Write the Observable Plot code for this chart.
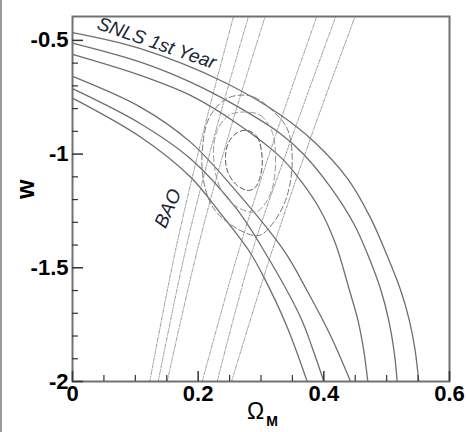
<!DOCTYPE html>
<html><head><meta charset="utf-8">
<script src="https://cdn.jsdelivr.net/npm/d3@7"></script>
<script src="https://cdn.jsdelivr.net/npm/@observablehq/plot@0.6"></script>
<style>
html,body{margin:0;padding:0;background:#fff;}
body{width:467px;height:432px;overflow:hidden;position:relative;}
#edge{position:absolute;left:0;top:0;width:2px;height:432px;background:#9a9a9a;}
</style></head><body><div id="chart"></div><div id="edge"></div>
<script>
// ---- tick values ----
const xMajor = [0, 0.2, 0.4, 0.6];
const xMinor = [0.05, 0.1, 0.15, 0.25, 0.3, 0.35, 0.45, 0.5, 0.55];
const yMajor = [-2, -1.5, -1, -0.5];
const yMinor = [-1.9, -1.8, -1.7, -1.6, -1.4, -1.3, -1.2, -1.1, -0.9, -0.8, -0.7, -0.6];

// ---- SNLS 1st year contours [Omega_M, w] ----
const snlsUpper1 = [[0,-0.466],[0.1082,-0.5365],[0.2408,-0.683],[0.3311,-0.8278],[0.3841,-0.9448],[0.4372,-1.1062],[0.4743,-1.2805],[0.5017,-1.4529],[0.5224,-1.600],[0.5362,-1.7319],[0.5454,-1.8639],[0.5510,-2.0]];
const snlsUpper2 = [[0,-0.5119],[0.1082,-0.5955],[0.1878,-0.6835],[0.2594,-0.786],[0.3311,-0.9105],[0.3681,-1.0015],[0.4106,-1.1454],[0.4477,-1.3064],[0.4724,-1.4591],[0.4910,-1.600],[0.5034,-1.7319],[0.5117,-1.8639],[0.5168,-2.0]];
const snlsUpper3 = [[0,-0.5616],[0.1082,-0.654],[0.1878,-0.742],[0.2594,-0.8608],[0.3311,-1.0134],[0.3629,-1.1159],[0.3947,-1.2479],[0.4186,-1.3944],[0.4409,-1.600],[0.4544,-1.7319],[0.4636,-1.8639],[0.4700,-2.0]];
const snlsLower1 = [[0,-0.6584],[0.1082,-0.7934],[0.1878,-0.9474],[0.2594,-1.1599],[0.3363,-1.4239],[0.3732,-1.5999],[0.4106,-1.7979],[0.4425,-2.0]];
const snlsLower2 = [[0,-0.7125],[0.1082,-0.8665],[0.1878,-1.0205],[0.2594,-1.2347],[0.3045,-1.4239],[0.3629,-1.7173],[0.3820,-1.855],[0.4000,-2.0]];
const snlsLower3 = [[0,-0.754],[0.1082,-0.925],[0.1878,-1.101],[0.2356,-1.261],[0.2806,-1.424],[0.3045,-1.541],[0.3417,-1.761],[0.3735,-2.0]];

// ---- combined (SNLS + BAO) contours ----
const combInner = [[0.2781,-0.896],[0.2940,-0.925],[0.3019,-1.020],[0.2992,-1.094],[0.2913,-1.145],[0.2806,-1.160],[0.2621,-1.138],[0.2472,-1.079],[0.2435,-1.006],[0.2488,-0.947],[0.2621,-0.906]];
const combMiddle = [[0.2726,-0.815],[0.2992,-0.830],[0.3178,-0.903],[0.3231,-1.035],[0.3178,-1.152],[0.3045,-1.226],[0.2913,-1.255],[0.2621,-1.233],[0.2356,-1.152],[0.2244,-1.006],[0.2303,-0.896],[0.2488,-0.830]];
const combOuter = [[0.2621,-0.742],[0.2886,-0.749],[0.3204,-0.815],[0.3417,-0.888],[0.3497,-1.020],[0.3417,-1.182],[0.3204,-1.299],[0.2965,-1.358],[0.2621,-1.328],[0.2249,-1.240],[0.2090,-1.123],[0.2064,-0.991],[0.2169,-0.844],[0.2408,-0.764]];

// ---- BAO band edges ----
const baoLeft1  = [[0.1230,-2.0],[0.1639,-1.424],[0.2069,-0.918],[0.2567,-0.39]];
const baoLeft2  = [[0.1364,-2.0],[0.1798,-1.424],[0.2260,-0.918],[0.2806,-0.39]];
const baoLeft3  = [[0.1507,-2.0],[0.1985,-1.424],[0.2483,-0.918],[0.3072,-0.39]];
const baoRight1 = [[0.2064,-2.0],[0.2647,-1.424],[0.3231,-0.918],[0.3895,-0.39]];
const baoRight2 = [[0.2303,-2.0],[0.2865,-1.424],[0.3502,-0.918],[0.4197,-0.39]];
const baoRight3 = [[0.2531,-2.0],[0.3178,-1.424],[0.3804,-0.918],[0.4504,-0.39]];

// ---- annotations ----
const labelText = ["SNLS 1st Year", "BAO"];
const labelX = [0.134, 0.152];
const labelW = [-0.512, -1.239];
const labelRotate = [19, -66];

function rows(named) {
  const out = [];
  for (const [id, pts] of Object.entries(named)) for (const [x, w] of pts) out.push({id, x, w});
  return out;
}
const snlsRows = rows({snlsUpper1, snlsUpper2, snlsUpper3, snlsLower1, snlsLower2, snlsLower3});
const baoRows = rows({baoLeft1, baoLeft2, baoLeft3, baoRight1, baoRight2, baoRight3});
const labels = labelText.map((t, i) => ({t, x: labelX[i], w: labelW[i], r: labelRotate[i]}));

const FONT = "'Liberation Sans', Arial, Helvetica, sans-serif";
const ink = "#1a2535";

const chart = Plot.plot({
  width: 467, height: 432,
  marginLeft: 72, marginRight: 18, marginTop: 16, marginBottom: 51,
  style: {background: "#fff", fontFamily: FONT, color: "#000"},
  x: {domain: [0, 0.6]},
  y: {domain: [-2, -0.395]},
  marks: [
    Plot.line(baoRows, {x: "x", y: "w", z: "id", curve: "catmull-rom", stroke: "#8f8f8f", strokeWidth: 0.9, strokeDasharray: "3,1.5,1,1.5", clip: true}),
    Plot.line(snlsRows, {x: "x", y: "w", z: "id", curve: "catmull-rom", stroke: "#6e6e6e", strokeWidth: 1.3, clip: true}),
    Plot.line(combOuter, {x: d => d[0], y: d => d[1], curve: "catmull-rom-closed", stroke: "#7a7a7a", strokeWidth: 1, strokeDasharray: "6,3"}),
    Plot.line(combMiddle, {x: d => d[0], y: d => d[1], curve: "catmull-rom-closed", stroke: "#9a9a9a", strokeWidth: 1, strokeDasharray: "6,3"}),
    Plot.line(combInner, {x: d => d[0], y: d => d[1], curve: "catmull-rom-closed", stroke: "#555", strokeWidth: 1, strokeDasharray: "5,3"}),
    Plot.text(labels, {x: "x", y: "w", text: "t", rotate: d => d.r, fontStyle: "italic", fontSize: 19, fill: ink, fontFamily: FONT}),
    Plot.frame({stroke: "#707070", strokeWidth: 2}),
    Plot.axisY(yMajor, {anchor: "left", tickSize: 11, dx: 11, fill: "none", stroke: "#333", strokeWidth: 1.5, label: null}),
    Plot.axisY(yMinor, {anchor: "left", tickSize: 6, dx: 6, fill: "none", stroke: "#333", strokeWidth: 1.2, label: null}),
    Plot.axisX(xMajor, {anchor: "bottom", tickSize: 10, dy: -10, fill: "none", stroke: "#333", strokeWidth: 1.5, label: null}),
    Plot.axisX(xMinor, {anchor: "bottom", tickSize: 6, dy: -6, fill: "none", stroke: "#333", strokeWidth: 1.2, label: null}),
    Plot.axisY(yMajor, {anchor: "left", tickSize: 0, tickPadding: 4, stroke: "none", tickFormat: d => String(d), fontSize: 22, fontWeight: "bold", label: null}),
    Plot.axisX(xMajor, {anchor: "bottom", tickSize: 0, tickPadding: 4, stroke: "none", tickFormat: d => String(d), fontSize: 22, fontWeight: "bold", label: null}),
    Plot.text(["w"], {frameAnchor: "left", dx: -46.5, rotate: -90, fontSize: 25, fontWeight: "bold", fill: "#000"}),
    Plot.text(["Ω"], {frameAnchor: "bottom", dx: -5.5, dy: 37, fontSize: 23, fill: "#000"}),
    Plot.text(["M"], {frameAnchor: "bottom", dx: 11, dy: 44, fontSize: 14, fontWeight: "bold", fill: "#000"})
  ]
});
document.getElementById("chart").appendChild(chart);
</script></body></html>
